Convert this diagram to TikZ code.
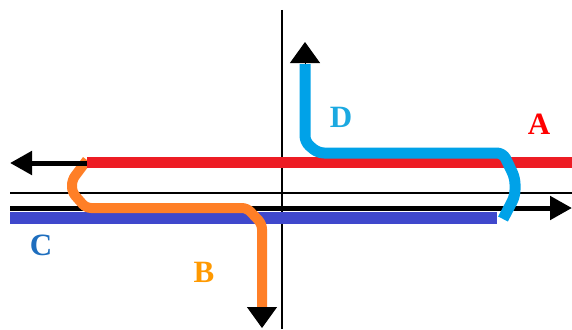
\documentclass[tikz,border=0pt]{standalone}
\usetikzlibrary{arrows.meta}
\usepackage{fontspec}
\setmainfont{Liberation Serif}
\definecolor{cRed}{HTML}{ED1C24}
\definecolor{cBlue}{HTML}{3F48CC}
\definecolor{cOrange}{HTML}{FF7F27}
\definecolor{cCyan}{HTML}{00A2E8}
\definecolor{lA}{HTML}{FF0000}
\definecolor{lB}{HTML}{FF9900}
\definecolor{lC}{HTML}{1E6EBE}
\definecolor{lD}{HTML}{1BA9E1}
\tikzset{
  thinaxis/.style={line width=2pt, black},
  thickaxis/.style={line width=5pt, black},
  bigtip/.style={-{Triangle[width=23pt,length=22pt]}},
  route/.style={line width=11pt, line join=round},
  lbl/.style={font=\fontsize{31}{31}\selectfont\bfseries, inner sep=0pt}
}
\begin{document}
\begin{tikzpicture}[x=1pt,y=-1pt]
\useasboundingbox (0,0) rectangle (572,329);
% axes
\coordinate (vt) at (282,10); \coordinate (vb) at (282,329);
\coordinate (hl) at (10,193); \coordinate (hr) at (572,193);
\coordinate (bl) at (10,208); \coordinate (br) at (572,208);
\draw[thinaxis] (vt) -- (vb);
\draw[thinaxis] (hl) -- (hr);
\draw[thickaxis, bigtip] (bl) -- (br);
% C blue
\coordinate (c1) at (10,218); \coordinate (c2) at (497,218);
\draw[route, cBlue, line width=12pt] (c1) -- (c2);
% B orange
\coordinate (b0) at (87,160);
\coordinate (bk1) at (72,180);
\coordinate (bk2) at (72,192);
\coordinate (b1) at (86,208);
\coordinate (b2) at (247,208);
\coordinate (b3) at (262,224);
\coordinate (b4) at (262,307);
\coordinate (b5) at (262,328);
\draw[route, cOrange, line width=10pt, rounded corners=5pt] (b0) -- (bk1) -- (bk2) -- (b1) -- (b2) -- (b3) -- (b4);
\draw[black, line width=1pt, -{Triangle[width=30pt,length=21pt]}] (b4) -- (b5);
% A red
\coordinate (a1) at (87,162); \coordinate (a2) at (572,162);
\coordinate (al) at (10,163); \coordinate (am) at (88,163);
\draw[thickaxis, bigtip] (am) -- (al);
\draw[route, cRed, line cap=butt] (a1) -- (a2);
% D cyan
\coordinate (d0) at (305,42);
\coordinate (d1) at (305,64);
\coordinate (d2) at (305,142);
\coordinate (d3) at (318,153);
\coordinate (d4) at (503,153);
\coordinate (dk1) at (515,178);
\coordinate (dk2) at (515,196);
\coordinate (d5) at (503,219);
\draw[route, cCyan, rounded corners=6pt] (d5) -- (dk2) -- (dk1) -- (d4) -- (d3) -- (d2) -- (d1);
\draw[black, line width=1pt, -{Triangle[width=30pt,length=21pt]}] (d1) -- (d0);
% labels
\node[lbl, text=lA] (A) at (539,124) {A};
\node[lbl, text=lB] (B) at (204,272) {B};
\node[lbl, text=lC] (C) at (41,245) {C};
\node[lbl, text=lD] (D) at (341,117) {D};
\end{tikzpicture}
\end{document}
